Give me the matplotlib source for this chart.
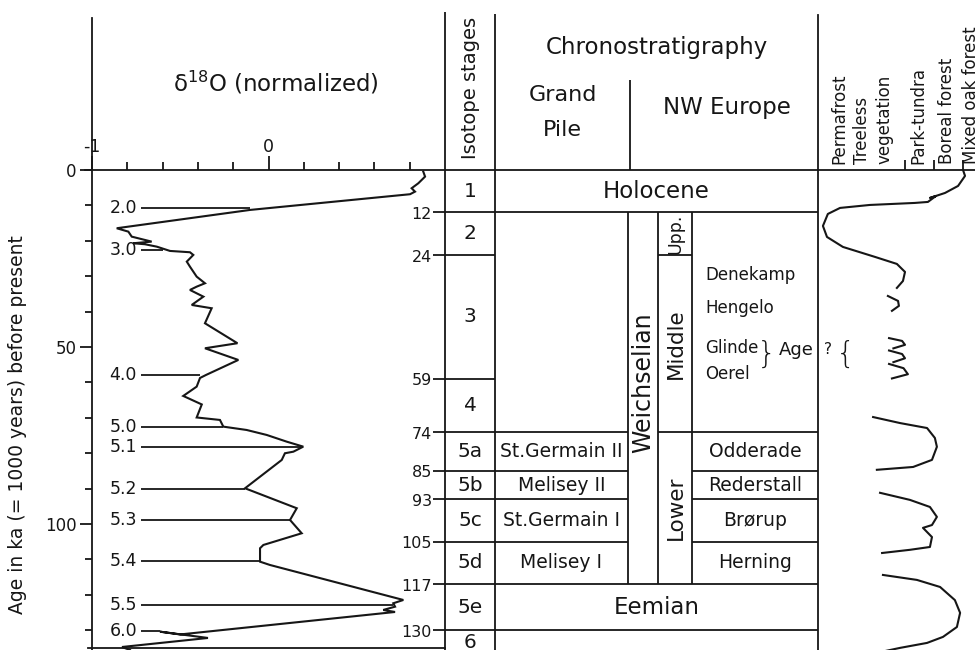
import numpy as np
import matplotlib
matplotlib.use("Agg")
import matplotlib.pyplot as plt

plt.rcParams['font.family'] = ['DejaVu Sans']
plt.rcParams['axes.unicode_minus'] = False

INK = '#161616'

# ---------------- data ----------------
# delta-18O (normalized) record, value vs age (ka)
d18o_age = [0.48, 1.89, 3.76, 5.17, 6.13, 6.86, 11.30, 16.47, 17.43, 18.84, 20.25, 20.71,
            20.99, 21.67, 22.88, 23.25, 24.01, 25.90, 27.32, 28.73, 30.14, 32.01, 32.97,
            33.90, 35.79, 38.14, 39.07, 43.31, 48.95, 50.37, 53.67, 57.91, 58.76, 61.21,
            63.84, 66.24, 69.92, 70.62, 72.51, 73.45, 74.86, 76.75, 78.16, 79.58, 80.03,
            81.92, 89.92, 95.56, 98.87, 102.63, 105.93, 106.86, 110.65, 111.58, 121.47,
            122.40, 123.36, 124.29, 124.86, 131.21, 130.42, 132.20, 134.75, 135.6]
d18o_val = [0.877, 0.887, 0.849, 0.811, 0.830, 0.802, -0.105, -0.860, -0.794, -0.775, -0.662,
            -0.766, -0.700, -0.633, -0.558, -0.445, -0.426, -0.463, -0.445, -0.426, -0.407,
            -0.360, -0.407, -0.445, -0.369, -0.435, -0.322, -0.360, -0.176, -0.360, -0.171,
            -0.354, -0.388, -0.407, -0.483, -0.378, -0.407, -0.275, -0.256, -0.124, -0.010,
            0.103, 0.197, 0.141, 0.093, 0.075, -0.133, 0.160, 0.122, 0.188, -0.029, -0.048,
            -0.048, 0.008, 0.764, 0.707, 0.717, 0.650, 0.717, -0.501, -0.615, -0.343,
            -0.830, -0.785]

substage_labels = ['2.0', '3.0', '4.0', '5.0', '5.1', '5.2', '5.3', '5.4', '5.5', '6.0']
substage_age = [10.7, 22.6, 57.9, 72.6, 78.2, 90.1, 98.9, 110.5, 122.9, 130.2]
substage_val = [-0.105, -0.60, -0.388, -0.258, 0.195, -0.133, 0.122, -0.048, 0.705, -0.615]

age_major = [0, 50, 100]
age_minor = [10, 20, 30, 40, 60, 70, 80, 90, 110, 120, 130]
d18o_major = [-1, 0]
d18o_major_labels = ['-1', '0']
d18o_minor = [-0.8, -0.6, -0.4, -0.2, 0.2, 0.4, 0.6, 0.8]

iso_stage_labels = ['1', '2', '3', '4', '5a', '5b', '5c', '5d', '5e', '6']
iso_stage_tops = [0, 12, 24, 59, 74, 85, 93, 105, 117, 130, 137]
boundary_ages = [12, 24, 59, 74, 85, 93, 105, 117, 130]

holocene = (0, 12)
eemian = (117, 130)
weichsel_bounds = [12, 24, 74, 117]
weichsel_parts = ['Upp.', 'Middle', 'Lower']
lower_bounds = [74, 85, 93, 105, 117]
grand_pile_names = ['St.Germain II', 'Melisey II', 'St.Germain I', 'Melisey I']
nw_lower_names = ['Odderade', 'Rederstall', 'Brørup', 'Herning']
nw_middle_names = ['Denekamp', 'Hengelo', 'Glinde', 'Oerel']
nw_middle_age = [29.7, 39.0, 50.3, 57.7]

veg_labels = ['Permafrost', 'Treeless\nvegetation', 'Park-tundra', 'Boreal forest', 'Mixed oak forest']
veg_label_u = [0.72, 1.9, 3.45, 4.45, 5.27]
veg_ticks = [3, 4, 5]
# vegetation curve pieces: (position on vegetation scale, age ka)
veg_segments = [
    ([5.00, 5.07, 4.83, 4.38, 3.86, 4.07, 3.79, 3.34, 1.79, 0.76, 0.34, 0.17, 0.31, 0.86,
      1.97, 2.72, 3.00, 2.93, 2.72],
     [0.0, 1.69, 4.52, 6.50, 7.91, 7.34, 9.04, 9.32, 9.89, 10.73, 12.43, 15.82, 18.93,
      21.75, 24.58, 26.55, 28.81, 31.36, 33.33]),
    ([2.41, 2.76, 2.79, 2.55], [35.6, 37.0, 38.4, 39.8]),
    ([2.45, 2.90, 3.00, 2.60], [47.5, 48.3, 49.4, 50.4]),
    ([2.45, 2.90, 3.00, 2.60], [51.0, 52.0, 53.2, 54.3]),
    ([2.45, 2.95, 3.10, 2.55], [54.8, 56.0, 57.7, 58.9]),
    ([1.90, 2.83, 3.76, 4.03, 4.10, 3.93, 3.28, 2.03],
     [69.8, 71.5, 72.9, 75.7, 78.2, 81.9, 83.9, 84.7]),
    ([2.14, 3.17, 3.86, 4.10, 3.93, 3.62, 3.93, 3.86, 3.17, 2.21],
     [91.2, 93.2, 95.2, 98.0, 100.3, 101.1, 103.7, 106.5, 107.3, 108.2]),
    ([2.24, 3.41, 4.21, 4.72, 4.90, 4.79, 4.31, 3.76, 2.83, 2.14],
     [114.4, 115.8, 117.8, 121.5, 125.1, 129.1, 131.9, 133.6, 135.0, 136.2]),
]

# ---------------- layout ----------------
W, H = 975, 650
AGE_BOTTOM, AGE_TOP = 135.6, -48.0
LW = 1.3

fig = plt.figure(figsize=(W / 100, H / 100), dpi=100)
fig.patch.set_facecolor('white')

# table axes (x in layout units across the whole figure)
ax_t = fig.add_axes([0, 0, 1, 1])
ax_t.set_xlim(0, W)
ax_t.set_ylim(AGE_BOTTOM, AGE_TOP)
ax_t.axis('off')

# delta-18O panel
ax_d = fig.add_axes([92 / W, 0, (445 - 92) / W, 1])
ax_d.patch.set_visible(False)
ax_d.set_xlim(-1, 1)
ax_d.set_ylim(AGE_BOTTOM, AGE_TOP)
ax_d.spines['right'].set_visible(False)
ax_d.spines['left'].set_bounds(-42.9, AGE_BOTTOM)
ax_d.spines['top'].set_position(('data', 0))
ax_d.spines['top'].set_bounds(-1.04, 1.0)
ax_d.spines['bottom'].set_position(('data', 135.0))
ax_d.spines['bottom'].set_bounds(-1.02, 1.0)
for s in ['left', 'top', 'bottom']:
    ax_d.spines[s].set_linewidth(LW)
    ax_d.spines[s].set_color(INK)
ax_d.xaxis.set_ticks_position('top')
ax_d.set_xticks(d18o_major)
ax_d.set_xticklabels(d18o_major_labels)
ax_d.set_xticks(d18o_minor, minor=True)
ax_d.tick_params(axis='x', which='major', direction='out', length=10, width=LW,
                 labelsize=12.5, pad=0, colors=INK)
ax_d.tick_params(axis='x', which='minor', direction='out', length=6, width=LW, colors=INK)
ax_d.set_yticks(age_major)
ax_d.set_yticks(age_minor, minor=True)
ax_d.tick_params(axis='y', which='major', direction='out', length=9, width=LW,
                 labelsize=12, pad=2, colors=INK)
ax_d.tick_params(axis='y', which='minor', direction='out', length=5, width=LW, colors=INK)

ax_d.plot(d18o_val, d18o_age, color=INK, lw=1.5, solid_joinstyle='miter')
ax_d.hlines(substage_age, -0.72, substage_val, color=INK, lw=LW)
for lab, a in zip(substage_labels, substage_age):
    ax_d.text(-0.745, a, lab, ha='right', va='center', fontsize=12.5, color=INK)
ax_d.text(0.04, -24.6, 'δ$^{18}$O (normalized)', ha='center', va='center',
          fontsize=16.5, color=INK)

fig.text(18 / W, 1 - 425 / H, 'Age in ka (= 1000 years) before present', rotation=90,
         ha='center', va='center', fontsize=13.5, color=INK)

# ---- chronostratigraphic table ----
X_TICK0, X_ISO0, X_ISO1 = 433, 445, 495
X_GP1, X_WE1, X_SUB1, X_NW1 = 628, 658, 692, 818
X_HDR_SEP = 630

ax_t.vlines(X_ISO0, -44.6, AGE_BOTTOM, color=INK, lw=LW)
ax_t.vlines(X_ISO1, -44.1, AGE_BOTTOM, color=INK, lw=LW)
ax_t.vlines([X_GP1, X_WE1, X_SUB1], weichsel_bounds[0], weichsel_bounds[-1], color=INK, lw=LW)
ax_t.vlines(X_HDR_SEP, -25.4, 0, color=INK, lw=LW)
ax_t.hlines(0, X_ISO0, X_NW1, color=INK, lw=LW)
ax_t.hlines(boundary_ages, X_TICK0, X_ISO1, color=INK, lw=LW)
ax_t.hlines([holocene[1], eemian[0], eemian[1]], X_ISO1, X_NW1, color=INK, lw=LW)
ax_t.hlines(lower_bounds[:-1], X_ISO1, X_GP1, color=INK, lw=LW)
ax_t.hlines(lower_bounds[1:-1], X_SUB1, X_NW1, color=INK, lw=LW)
ax_t.hlines(weichsel_bounds[2], X_WE1, X_NW1, color=INK, lw=LW)
ax_t.hlines(weichsel_bounds[1], X_WE1, X_SUB1, color=INK, lw=LW)

for b in boundary_ages:
    ax_t.text(X_TICK0 - 1, b + 0.6, str(b), ha='right', va='center', fontsize=11.5, color=INK)
for i, lab in enumerate(iso_stage_labels):
    mid = 0.5 * (iso_stage_tops[i] + iso_stage_tops[i + 1])
    ax_t.text(0.5 * (X_ISO0 + X_ISO1), mid, lab, ha='center', va='center', fontsize=14.5,
              color=INK)
for i, lab in enumerate(grand_pile_names):
    mid = 0.5 * (lower_bounds[i] + lower_bounds[i + 1])
    ax_t.text(0.5 * (X_ISO1 + X_GP1), mid, lab, ha='center', va='center', fontsize=13.5,
              color=INK)
    ax_t.text(0.5 * (X_SUB1 + X_NW1), mid, nw_lower_names[i], ha='center', va='center',
              fontsize=13.5, color=INK)
ax_t.text(0.5 * (X_ISO1 + X_NW1), np.mean(holocene), 'Holocene', ha='center', va='center',
          fontsize=16.5, color=INK)
ax_t.text(0.5 * (X_ISO1 + X_NW1), np.mean(eemian), 'Eemian', ha='center', va='center',
          fontsize=16.5, color=INK)
ax_t.text(0.5 * (X_GP1 + X_WE1), 60, 'Weichselian', rotation=90, ha='center', va='center',
          fontsize=17, color=INK)
wsizes = [12.5, 15.5, 15.5]
for i, lab in enumerate(weichsel_parts):
    mid = 0.5 * (weichsel_bounds[i] + weichsel_bounds[i + 1])
    ax_t.text(0.5 * (X_WE1 + X_SUB1) + 1, mid, lab, rotation=90, ha='center', va='center',
              fontsize=wsizes[i], color=INK)
for lab, a in zip(nw_middle_names, nw_middle_age):
    ax_t.text(705, a, lab, ha='left', va='center', fontsize=12, color=INK)
ax_t.text(767, 52.0, '}', ha='center', va='center', fontsize=22, color=INK,
          fontweight='light')
ax_t.text(779, 51.0, 'Age', ha='left', va='center', fontsize=13, color=INK)
ax_t.text(824, 50.6, '?', ha='left', va='center', fontsize=11, color=INK)
ax_t.text(846, 52.0, '{', ha='center', va='center', fontsize=22, color=INK,
          fontweight='light')

# headers
ax_t.text(0.5 * (X_ISO0 + X_ISO1), -23.2, 'Isotope stages', rotation=90, ha='center',
          va='center', fontsize=14, color=INK)
ax_t.text(0.5 * (X_ISO1 + X_NW1), -34.7, 'Chronostratigraphy', ha='center', va='center',
          fontsize=16.5, color=INK)
ax_t.text(0.5 * (X_ISO1 + X_HDR_SEP), -21.2, 'Grand', ha='center', va='center',
          fontsize=16, color=INK)
ax_t.text(0.5 * (X_ISO1 + X_HDR_SEP), -11.3, 'Pile', ha='center', va='center',
          fontsize=16, color=INK)
ax_t.text(0.5 * (X_HDR_SEP + X_NW1) + 3, -17.5, 'NW Europe', ha='center', va='center',
          fontsize=16.5, color=INK)

# ---- vegetation panel ----
ax_v = fig.add_axes([818 / W, 0, (W - 818) / W, 1])
ax_v.patch.set_visible(False)
ax_v.set_xlim(0, (W - 818) / 29.0)
ax_v.set_ylim(AGE_BOTTOM, AGE_TOP)
for s in ['right', 'bottom']:
    ax_v.spines[s].set_visible(False)
ax_v.spines['left'].set_bounds(-43.8, AGE_BOTTOM)
ax_v.spines['top'].set_position(('data', 0))
for s in ['left', 'top']:
    ax_v.spines[s].set_linewidth(LW)
    ax_v.spines[s].set_color(INK)
ax_v.xaxis.set_ticks_position('top')
ax_v.set_xticks(veg_ticks)
ax_v.set_xticklabels([])
ax_v.set_yticks([])
ax_v.tick_params(axis='x', direction='out', length=7, width=LW, colors=INK)
for lab, u in zip(veg_labels, veg_label_u):
    ax_v.text(u, -1.6, lab, rotation=90, ha='center', va='bottom', fontsize=12,
              multialignment='left', linespacing=1.3, color=INK)
for u, a in veg_segments:
    ax_v.plot(u, a, color=INK, lw=1.5, clip_on=False)

fig.savefig('out.png', dpi=100, facecolor='white')
